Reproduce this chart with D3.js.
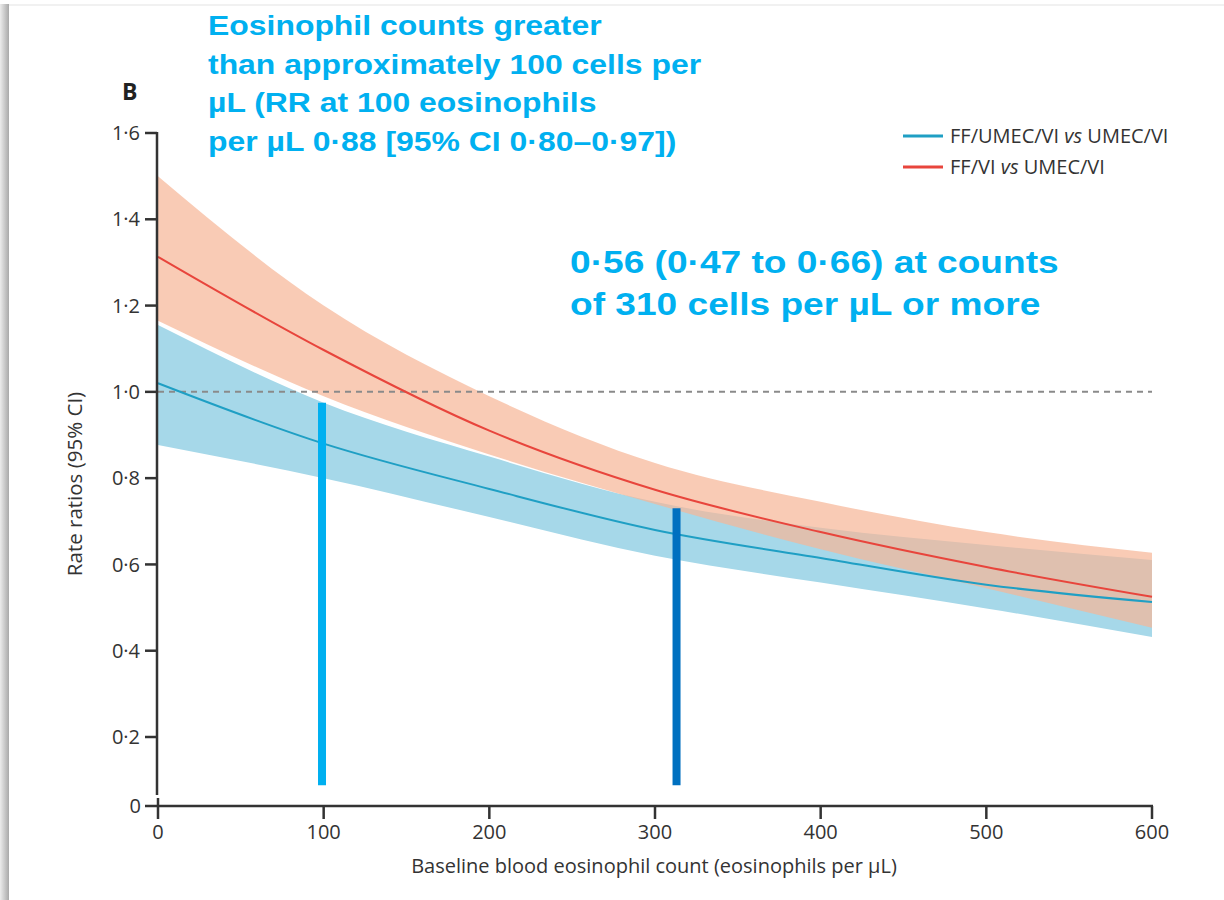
<!DOCTYPE html>
<html>
<head>
<meta charset="utf-8">
<script src="https://cdn.jsdelivr.net/npm/d3@7/dist/d3.min.js"></script>
<style>
  html, body { margin: 0; padding: 0; background: #fff; }
  svg { display: block; }
  .tick-label { font-family: "Open Sans", sans-serif; fill: #333; }
  .note { font-family: "Liberation Sans", Arial, sans-serif; font-weight: bold; fill: #00b0f0; }
</style>
</head>
<body>
<svg id="chart" width="1224" height="900"></svg>
<script>
// Baseline blood eosinophil counts (per µL) at which the curves are read
const eosinophils = [0, 100, 200, 300, 400, 500, 600];

// FF/UMEC/VI vs UMEC/VI: rate ratio and 95% CI
const tripleRR = [1.02, 0.88, 0.775, 0.68, 0.615, 0.553, 0.513];
const tripleLo = [0.877, 0.80, 0.71, 0.62, 0.558, 0.498, 0.432];
const tripleHi = [1.155, 0.975, 0.85, 0.745, 0.685, 0.645, 0.61];

// FF/VI vs UMEC/VI: rate ratio and 95% CI
const dualRR = [1.313, 1.097, 0.91, 0.773, 0.675, 0.594, 0.525];
const dualLo = [1.165, 0.99, 0.855, 0.74, 0.635, 0.545, 0.453];
const dualHi = [1.50, 1.20, 0.99, 0.835, 0.745, 0.675, 0.627];

const yTicks = [0, 0.2, 0.4, 0.6, 0.8, 1.0, 1.2, 1.4, 1.6];
const xTicks = [0, 100, 200, 300, 400, 500, 600];

const seriesNames = ["FF/UMEC/VI", "FF/VI"];
const comparator = "UMEC/VI";

// Highlight markers: count and rate-ratio extent
const markerCounts = [99, 313];
const markerLow = [0.06, 0.06];
const markerHigh = [0.975, 0.73];

const noteLeft = [
  "Eosinophil counts greater",
  "than approximately 100 cells per",
  "µL (RR at 100 eosinophils",
  "per µL 0·88 [95% CI 0·80–0·97])"
];
const noteRight = [
  "0·56 (0·47 to 0·66) at counts",
  "of 310 cells per µL or more"
];

const svg = d3.select("#chart");

// page frame shading
const defs = svg.append("defs");
const grad = defs.append("linearGradient").attr("id", "edge").attr("x1", 0).attr("x2", 1);
grad.append("stop").attr("offset", 0).attr("stop-color", "#ececec");
grad.append("stop").attr("offset", 1).attr("stop-color", "#a9a9a9");
svg.append("rect").attr("x", 0).attr("y", 4).attr("width", 9).attr("height", 896).attr("fill", "url(#edge)");
svg.append("line").attr("x1", 9).attr("x2", 1224).attr("y1", 5).attr("y2", 5)
  .attr("stroke", "#ececec").attr("stroke-width", 1.5);

// Scales: the y axis is broken between 0 and 0·2
const x = d3.scaleLinear().domain([0, 600]).range([158, 1152]);
const y = d3.scaleLinear().domain([0, 0.2, 1.6]).range([806, 737, 133]);

const tripleRows = eosinophils.map((e, i) => ({ e, rr: tripleRR[i], lo: tripleLo[i], hi: tripleHi[i] }));
const dualRows = eosinophils.map((e, i) => ({ e, rr: dualRR[i], lo: dualLo[i], hi: dualHi[i] }));

const band = d3.area().x(d => x(d.e)).y0(d => y(d.lo)).y1(d => y(d.hi)).curve(d3.curveMonotoneX);
const line = d3.line().x(d => x(d.e)).y(d => y(d.rr)).curve(d3.curveMonotoneX);

// confidence bands
svg.append("path").datum(tripleRows).attr("d", band).attr("fill", "#a6d8e9");
svg.append("path").datum(dualRows).attr("d", band).attr("fill", "rgba(247,182,151,0.71)");

// reference line at RR = 1
svg.append("line")
  .attr("x1", x(0)).attr("x2", x(600)).attr("y1", y(1)).attr("y2", y(1))
  .attr("stroke", "#8a8a8a").attr("stroke-width", 2).attr("stroke-dasharray", "6,5");

// estimate curves
svg.append("path").datum(tripleRows).attr("d", line)
  .attr("fill", "none").attr("stroke", "#1f9fc4").attr("stroke-width", 2);
svg.append("path").datum(dualRows).attr("d", line)
  .attr("fill", "none").attr("stroke", "#e8453c").attr("stroke-width", 2);

// highlight markers
const markerColors = ["#00b0f0", "#0070c0"];
markerCounts.forEach((c, i) => {
  svg.append("line")
    .attr("x1", x(c)).attr("x2", x(c)).attr("y1", y(markerLow[i])).attr("y2", y(markerHigh[i]))
    .attr("stroke", markerColors[i]).attr("stroke-width", 8);
});

// axes
const axisColor = "#333";
const fmt = d => d === 0 ? "0" : d.toFixed(1).replace(".", "·");

// y axis line stops short of the break
svg.append("line").attr("x1", 157).attr("x2", 157).attr("y1", y(1.6) - 1).attr("y2", 795)
  .attr("stroke", axisColor).attr("stroke-width", 2.5);
// x axis line
svg.append("line").attr("x1", 145).attr("x2", x(600) + 1).attr("y1", y(0)).attr("y2", y(0))
  .attr("stroke", axisColor).attr("stroke-width", 2.5);

const yt = svg.append("g");
yTicks.forEach(t => {
  if (t > 0) {
    yt.append("line").attr("x1", 145).attr("x2", 157).attr("y1", y(t)).attr("y2", y(t))
      .attr("stroke", axisColor).attr("stroke-width", 2.5);
  }
  yt.append("text").attr("class", "tick-label")
    .attr("x", t === 0 ? 141 : 140).attr("y", y(t)).attr("dy", "0.36em")
    .attr("text-anchor", "end").attr("font-size", 20).text(fmt(t));
});

const xt = svg.append("g");
xTicks.forEach(t => {
  xt.append("line").attr("x1", x(t)).attr("x2", x(t))
    .attr("y1", t === 0 ? 798 : y(0)).attr("y2", 819)
    .attr("stroke", axisColor).attr("stroke-width", 2.5);
  xt.append("text").attr("class", "tick-label")
    .attr("x", x(t)).attr("y", 839).attr("text-anchor", "middle")
    .attr("font-size", 20).text(String(t));
});

// axis titles
svg.append("text").attr("class", "tick-label")
  .attr("transform", "translate(82,484) rotate(-90)")
  .attr("text-anchor", "middle").attr("font-size", 20.5).text("Rate ratios (95% CI)");
svg.append("text").attr("class", "tick-label")
  .attr("x", 654).attr("y", 873).attr("text-anchor", "middle")
  .attr("font-size", 20).text("Baseline blood eosinophil count (eosinophils per µL)");

// panel letter
svg.append("text").attr("x", 122).attr("y", 100)
  .attr("font-family", "'Open Sans', sans-serif").attr("font-weight", "bold")
  .attr("font-size", 23).attr("fill", "#222").text("B");

// legend
const legendColors = ["#1f9fc4", "#e8453c"];
seriesNames.forEach((name, i) => {
  const ly = 136 + i * 31;
  svg.append("line").attr("x1", 903).attr("x2", 943).attr("y1", ly).attr("y2", ly)
    .attr("stroke", legendColors[i]).attr("stroke-width", 3);
  const t = svg.append("text").attr("class", "tick-label")
    .attr("x", 950).attr("y", ly + 7).attr("font-size", 20);
  t.append("tspan").text(name + " ");
  t.append("tspan").attr("font-style", "italic").text("vs");
  t.append("tspan").text(" " + comparator);
});

// annotations (slightly widened lettering)
noteLeft.forEach((s, i) => {
  svg.append("text").attr("class", "note")
    .attr("transform", `translate(208,${35 + i * 38.5}) scale(1.14,1)`)
    .attr("font-size", 28).text(s);
});
noteRight.forEach((s, i) => {
  svg.append("text").attr("class", "note")
    .attr("transform", `translate(570,${273 + i * 42}) scale(1.16,1)`)
    .attr("font-size", 32).text(s);
});
</script>
</body>
</html>
